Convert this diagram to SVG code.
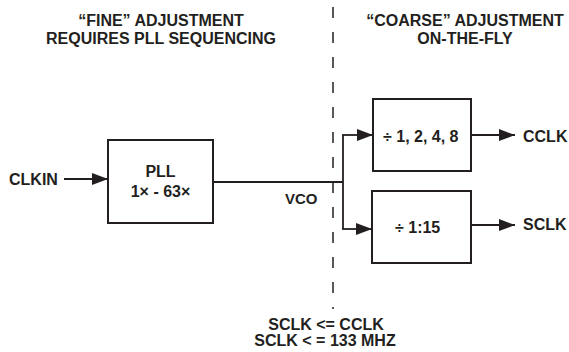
<svg xmlns="http://www.w3.org/2000/svg" width="569" height="352" viewBox="0 0 569 352">
  <defs>
    <style>
      .t { font-family: "Liberation Sans", Arial, sans-serif; font-weight: bold; font-size: 16px; fill: #231f20; }
      .box { fill: #ffffff; stroke: #231f20; stroke-width: 2; }
      .ln { fill: none; stroke: #231f20; stroke-width: 1.8; }
      .dash { fill: none; stroke: #231f20; stroke-width: 1.5; stroke-dasharray: 11 14; }
    </style>
    <marker id="arr" markerUnits="userSpaceOnUse" markerWidth="16" markerHeight="12" refX="16" refY="6" orient="auto">
      <path d="M0,0 L16,6 L0,12 Z" fill="#231f20"/>
    </marker>
  </defs>
  <rect width="569" height="352" fill="#ffffff"/>

  <g id="headers">
    <text class="t" x="161" y="26" text-anchor="middle">“FINE” ADJUSTMENT</text>
    <text class="t" x="161" y="44" text-anchor="middle">REQUIRES PLL SEQUENCING</text>
    <text class="t" x="465" y="26" text-anchor="middle">“COARSE” ADJUSTMENT</text>
    <text class="t" x="465" y="44" text-anchor="middle">ON-THE-FLY</text>
  </g>

  <g id="divider">
    <line class="dash" x1="333" y1="7" x2="333" y2="309"/>
  </g>

  <g id="connectors">
    <line class="ln" x1="64" y1="179" x2="108" y2="179" marker-end="url(#arr)"/>
    <line class="ln" x1="213" y1="182" x2="343" y2="182"/>
    <line class="ln" x1="343" y1="135" x2="343" y2="229"/>
    <line class="ln" x1="342" y1="135" x2="373" y2="135" marker-end="url(#arr)"/>
    <line class="ln" x1="342" y1="229" x2="372" y2="229" marker-end="url(#arr)"/>
    <line class="ln" x1="471" y1="135" x2="515" y2="135" marker-end="url(#arr)"/>
    <line class="ln" x1="471" y1="225" x2="515" y2="225" marker-end="url(#arr)"/>
  </g>

  <g id="clkin">
    <text class="t" x="9" y="185">CLKIN</text>
  </g>

  <g id="pll">
    <rect class="box" x="108" y="140" width="105" height="83"/>
    <text class="t" x="160.5" y="177" text-anchor="middle">PLL</text>
    <text class="t" x="160.5" y="197" text-anchor="middle">1× - 63×</text>
  </g>

  <g id="vco">
    <text class="t" x="285" y="204" style="font-size:15px">VCO</text>
  </g>

  <g id="div-cclk">
    <rect class="box" x="373" y="99" width="98" height="72"/>
    <text class="t" x="383" y="142">÷ 1, 2, 4, 8</text>
  </g>

  <g id="div-sclk">
    <rect class="box" x="372" y="191" width="99" height="72"/>
    <text class="t" x="395" y="233">÷ 1:15</text>
  </g>

  <g id="cclk">
    <text class="t" x="523" y="142">CCLK</text>
  </g>

  <g id="sclk">
    <text class="t" x="523" y="230">SCLK</text>
  </g>

  <g id="constraints">
    <text class="t" x="326" y="330" text-anchor="middle">SCLK &lt;= CCLK</text>
    <text class="t" x="325" y="346" text-anchor="middle">SCLK &lt; = 133 MHZ</text>
  </g>
</svg>
